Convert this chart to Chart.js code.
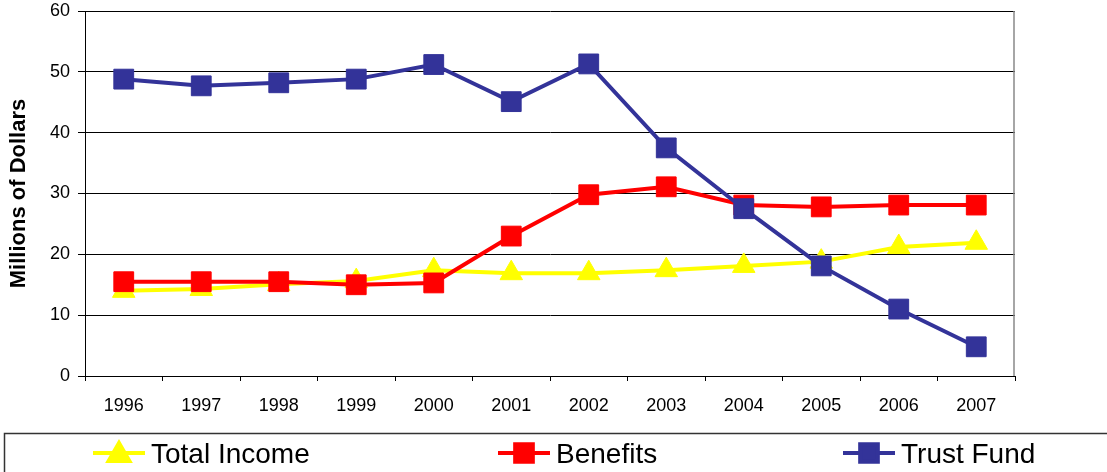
<!DOCTYPE html>
<html>
<head>
<meta charset="utf-8">
<script src="https://cdn.jsdelivr.net/npm/chart.js@4/dist/chart.umd.min.js"></script>
<style>
  html, body { margin: 0; padding: 0; background: #fff; }
  #wrap { width: 1107px; height: 472px; }
</style>
</head>
<body>
<div id="wrap"><canvas id="myChart" width="1107" height="472"></canvas></div>
<script>
const years = ["1996", "1997", "1998", "1999", "2000", "2001", "2002", "2003", "2004", "2005", "2006", "2007"];
const totalIncome = [14.0, 14.3, 15.1, 15.6, 17.4, 16.9, 16.9, 17.4, 18.1, 18.8, 21.2, 21.9];
const benefits = [15.5, 15.5, 15.5, 15.0, 15.3, 23.0, 29.8, 31.1, 28.1, 27.8, 28.1, 28.1];
const trustFund = [48.8, 47.7, 48.2, 48.8, 51.2, 45.1, 51.3, 37.5, 27.5, 18.1, 11.0, 4.8];

const FONT = "'Liberation Sans', Arial, sans-serif";

// legend strip under the plot: line + marker + label for each series
const legendBox = {
  id: "legendBox",
  afterDraw(chart) {
    const ctx = chart.ctx;
    ctx.save();
    ctx.strokeStyle = "#333";
    ctx.lineWidth = 1.5;
    ctx.strokeRect(4.5, 433.5, 1200, 100);

    const itemX = [93, 498, 843];
    const cy = 453;
    chart.data.datasets.forEach((ds, i) => {
      const x0 = itemX[i];
      ctx.strokeStyle = ds.borderColor;
      ctx.lineWidth = 4;
      ctx.beginPath();
      ctx.moveTo(x0, cy);
      ctx.lineTo(x0 + 52, cy);
      ctx.stroke();

      ctx.fillStyle = ds.pointBackgroundColor;
      ctx.strokeStyle = ds.pointBackgroundColor;
      Chart.helpers.drawPoint(ctx, {
        pointStyle: ds.pointStyle,
        radius: ds.pointStyle === "triangle" ? 12 : 12.5,
        rotation: 0,
        borderWidth: 1,
      }, x0 + 26, ds.pointStyle === "triangle" ? cy + 2 : cy);

      ctx.fillStyle = "#000";
      ctx.font = "28px " + FONT;
      ctx.textBaseline = "alphabetic";
      ctx.fillText(ds.label, x0 + 58, 463);
    });

    // grey frame on the right side of the plot
    const a = chart.chartArea;
    ctx.strokeStyle = "#888";
    ctx.lineWidth = 1.5;
    ctx.beginPath();
    ctx.moveTo(a.right - 1, a.top);
    ctx.lineTo(a.right - 1, a.bottom);
    ctx.stroke();
    ctx.restore();
  },
};

const ctx = document.getElementById("myChart").getContext("2d");

new Chart(ctx, {
  type: "line",
  data: {
    labels: years,
    datasets: [
      {
        label: "Total Income",
        data: totalIncome,
        borderColor: "#FFFF00",
        backgroundColor: "#FFFF00",
        pointBackgroundColor: "#FFFF00",
        pointBorderColor: "#FFFF00",
        pointStyle: "triangle",
        pointRadius: 13,
        borderWidth: 4,
        pointBorderWidth: 1,
        order: 3,
      },
      {
        label: "Benefits",
        data: benefits,
        borderColor: "#FF0000",
        backgroundColor: "#FF0000",
        pointBackgroundColor: "#FF0000",
        pointBorderColor: "#FF0000",
        pointStyle: "rect",
        pointRadius: 14,
        borderWidth: 4,
        pointBorderWidth: 1,
        order: 2,
      },
      {
        label: "Trust Fund",
        data: trustFund,
        borderColor: "#333399",
        backgroundColor: "#333399",
        pointBackgroundColor: "#333399",
        pointBorderColor: "#333399",
        pointStyle: "rect",
        pointRadius: 14,
        borderWidth: 4,
        pointBorderWidth: 1,
        order: 1,
      },
    ],
  },
  options: {
    responsive: false,
    animation: false,
    events: [],
    layout: {
      autoPadding: false,
      padding: { top: 0, right: 92, bottom: 0, left: 0 },
    },
    scales: {
      x: {
        offset: true,
        grid: {
          offset: true,
          drawOnChartArea: false,
          color: "#000",
          tickLength: 5,
        },
        border: { color: "#000", width: 1 },
        ticks: {
          color: "#000",
          padding: 14,
          maxRotation: 0,
          font: { family: FONT, size: 18 },
        },
        afterFit(scale) {
          scale.height = 96;
        },
      },
      y: {
        min: 0,
        max: 60,
        ticks: {
          stepSize: 10,
          color: "#000",
          padding: 8,
          font: { family: FONT, size: 18 },
        },
        grid: {
          color: "#000",
          lineWidth: 1,
          tickLength: 7,
        },
        border: { color: "#000", width: 1 },
        title: {
          display: true,
          text: "Millions of Dollars",
          color: "#000",
          padding: { top: 6, bottom: 0 },
          font: { family: FONT, size: 22, weight: "bold" },
        },
        afterFit(scale) {
          scale.width = 85;
          // top label sits right under the canvas edge
          scale.paddingTop = 11;
          scale.paddingBottom = 0;
        },
      },
    },
    plugins: {
      legend: { display: false },
      tooltip: { enabled: false },
    },
  },
  plugins: [legendBox],
});
</script>
</body>
</html>
